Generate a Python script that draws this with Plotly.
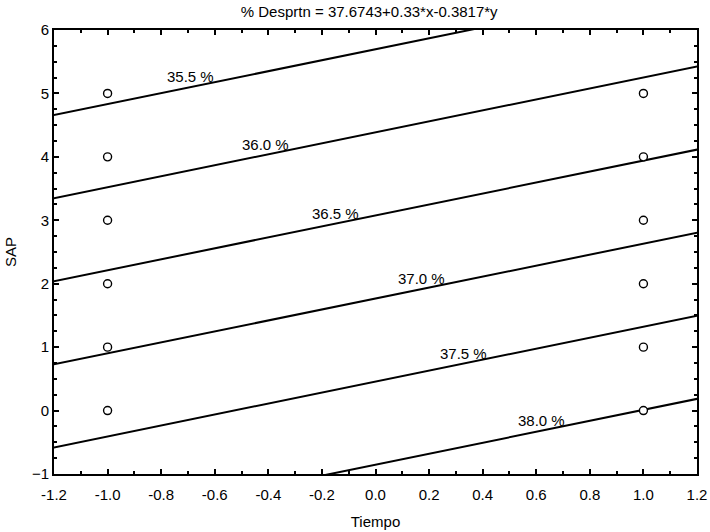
import plotly.graph_objects as go

# Model: % Desprtn = b0 + bx*x + by*y
b0 = 37.6743
bx = 0.33
by = -0.3817

levels = [35.5, 36.0, 36.5, 37.0, 37.5, 38.0]
level_labels = ["35.5 %", "36.0 %", "36.5 %", "37.0 %", "37.5 %", "38.0 %"]
label_x = [-0.69, -0.41, -0.15, 0.17, 0.33, 0.62]

pts_x = [-1, -1, -1, -1, -1, -1, 1, 1, 1, 1, 1, 1]
pts_y = [0, 1, 2, 3, 4, 5, 0, 1, 2, 3, 4, 5]

x_range = [-1.2, 1.2]
y_range = [-1, 6]

FONT = "Liberation Sans, Arial, sans-serif"
FS = 15

def line_y(x, z):
    return (z - b0 - bx * x) / by

fig = go.Figure()
for z in levels:
    xs = [-1.5, 1.5]
    fig.add_trace(go.Scatter(x=xs, y=[line_y(x, z) for x in xs], mode="lines",
                             line=dict(color="black", width=2), hoverinfo="skip",
                             showlegend=False))

fig.add_trace(go.Scatter(x=pts_x, y=pts_y, mode="markers",
                         marker=dict(symbol="circle", size=8, color="white",
                                     line=dict(width=1.4, color="black")),
                         showlegend=False, cliponaxis=False))

for lx, z, t in zip(label_x, levels, level_labels):
    fig.add_annotation(x=lx, y=line_y(lx, z), text=t, showarrow=False,
                       yanchor="bottom", yshift=0,
                       font=dict(family=FONT, size=FS, color="black"))

axis_common = dict(showgrid=False, zeroline=False, showline=True, linecolor="black",
                   linewidth=2, mirror="allticks", ticks="inside", ticklen=5,
                   tickwidth=1.5, tickcolor="black", automargin=False,
                   tickfont=dict(family=FONT, size=FS, color="black"))

fig.update_layout(
    width=710, height=532,
    margin=dict(l=54, r=13, t=30, b=58),
    paper_bgcolor="white", plot_bgcolor="white",
    title=dict(text="% Desprtn = 37.6743+0.33*x-0.3817*y", x=0.52, xanchor="center",
               y=0.978, yanchor="middle",
               font=dict(family=FONT, size=FS, color="black")),
    xaxis=dict(range=x_range, tickmode="array",
               tickvals=[-1.2, -1.0, -0.8, -0.6, -0.4, -0.2, 0.0, 0.2, 0.4, 0.6, 0.8, 1.0, 1.2],
               ticktext=["-1.2", "-1.0", "-0.8", "-0.6", "-0.4", "-0.2", "0.0", "0.2", "0.4", "0.6", "0.8", "1.0", "1.2"],
               minor=dict(dtick=0.1, ticks="inside", ticklen=3, tickcolor="black"),
               ticklabelstandoff=6,
               title=dict(text="Tiempo", font=dict(family=FONT, size=FS, color="black"), standoff=14),
               **axis_common),
    yaxis=dict(range=y_range, dtick=1,
               minor=dict(dtick=0.25, ticks="inside", ticklen=3, tickcolor="black"),
               title=dict(text="SAP", font=dict(family=FONT, size=FS, color="black"), standoff=12),
               **axis_common),
)

fig.write_html("out.html")
